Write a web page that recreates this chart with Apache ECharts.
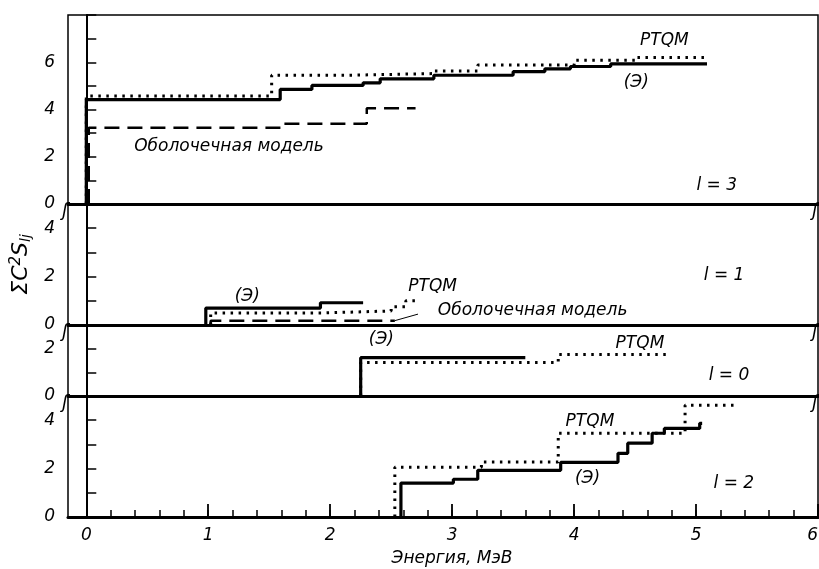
<!DOCTYPE html>
<html><head><meta charset="utf-8">
<script src="https://cdn.jsdelivr.net/npm/echarts@6/dist/echarts.min.js"></script>
<style>html,body{margin:0;padding:0;background:#fff}#c{width:819px;height:569px}</style>
</head><body><div id="c"></div>
<script>
// ---- data (energy in MeV, values of sum C^2 S) ----
const xMinorTicks = [0,0.2,0.4,0.6,0.8,1,1.2,1.4,1.6,1.8,2,2.2,2.4,2.6,2.8,3,3.2,3.4,3.6,3.8,4,4.2,4.4,4.6,4.8,5,5.2,5.4,5.6,5.8,6];
const xMajorTicks = [0,1,2,3,4,5,6];
const panelL = ['l = 3','l = 1','l = 0','l = 2'];
const panelYMax = [8,5,3,5];

// l = 3
const exp3X  = [0,0,1.59,1.85,2.27,2.41,2.85,3.50,3.76,3.97,4.30,5.09];
const exp3Y  = [0,4.42,4.85,5.02,5.13,5.30,5.45,5.60,5.72,5.82,5.93,5.93];
const ptqm3X = [0,0,1.52,2.13,2.85,3.21,4.00,4.50,5.10];
const ptqm3Y = [0,4.57,5.45,5.52,5.63,5.88,6.08,6.20,6.20];
const shell3X = [0.02,0.02,1.62,2.30,2.70];
const shell3Y = [0,3.23,3.40,4.05,4.05];
// l = 1
const exp1X  = [0.98,0.98,1.92,2.27];
const exp1Y  = [0,0.70,0.92,0.92];
const ptqm1X = [1.02,1.02,1.95,2.50,2.62,2.70];
const ptqm1Y = [0,0.50,0.58,0.75,1.00,1.00];
const shell1X = [1.02,1.02,2.53];
const shell1Y = [0,0.18,0.18];
// l = 0
const exp0X  = [2.25,2.25,3.60];
const exp0Y  = [0,1.62,1.62];
const ptqm0X = [2.25,2.25,3.87,4.78];
const ptqm0Y = [0,1.42,1.75,1.75];
// l = 2
const exp2X  = [2.58,2.58,3.01,3.21,3.89,4.36,4.44,4.64,4.74,5.03,5.05];
const exp2Y  = [0,1.40,1.56,1.93,2.26,2.63,3.05,3.46,3.66,3.87,3.87];
const ptqm2X = [2.53,2.53,3.24,3.87,4.91,5.31];
const ptqm2Y = [0,2.06,2.27,3.46,4.62,4.62];

// text annotations: [panel, text, x, y]
const notes = [
  [0,'PTQM',4.74,6.9],[0,'(Э)',4.51,5.15],[0,'Оболочечная модель',1.17,2.43],[0,panelL[0],5.17,0.8],
  [1,'(Э)',1.32,1.17],[1,'PTQM',2.84,1.58],[1,'Оболочечная модель',3.66,0.58],[1,panelL[1],5.23,2.04],
  [2,'(Э)',2.42,2.4],[2,'PTQM',4.54,2.2],[2,panelL[2],5.27,0.87],
  [3,'PTQM',4.13,3.96],[3,'(Э)',4.11,1.6],[3,panelL[3],5.31,1.4]
];
const leader1 = [[2.53,0.18],[2.72,0.45]];

// ---- chart ----
const FONT = 'DejaVu Sans';
const XMIN = -0.15, XMAX = 6;
const tops = [15,204,325,396];
const heights = [189,121,71,121];
const zip = (a,b)=>a.map((v,i)=>[v,b[i]]);

const grids = tops.map((t,i)=>({left:68,right:1,top:t,height:heights[i],show:true,borderColor:'#000',borderWidth:1.5,
  backgroundColor:'transparent',containLabel:false,outerBoundsMode:'none'}));
const xAxes = [];
const yAxes = [];
for (let i=0;i<4;i++){
  const last = i===3;
  xAxes.push({type:'value',gridIndex:i,min:XMIN,max:XMAX,
    axisLine:{show:true,onZero:false,lineStyle:{color:'#000',width:3}},
    axisTick:last?{show:true,inside:true,length:7,customValues:xMinorTicks,lineStyle:{color:'#000',width:1.5}}:{show:false},
    axisLabel:last?{show:true,customValues:xMajorTicks,fontFamily:FONT,fontStyle:'italic',fontSize:17,color:'#000',margin:10,
      hideOverlap:false,alignMaxLabel:'right'}:{show:false},
    splitLine:{show:false},
    name:last?'Энергия, МэВ':'',nameLocation:'middle',nameGap:33,
    nameTextStyle:{fontFamily:FONT,fontStyle:'italic',fontSize:17,color:'#000',padding:[0,0,0,18]}
  });
  yAxes.push({type:'value',gridIndex:i,min:0,max:panelYMax[i],interval:1,
    axisLine:{show:true,lineStyle:{color:'#000',width:2}},
    axisTick:{show:true,inside:true,length:10,lineStyle:{color:'#000',width:1.5}},
    axisLabel:{show:true,fontFamily:FONT,fontStyle:'italic',fontSize:17,color:'#000',margin:13,
      formatter:v=>(v%2===0&&v<panelYMax[i]-0.5)?String(v):''},
    splitLine:{show:false},
    name:i===1?'ΣC{sup|2}S{sub|lj}':'',nameLocation:'middle',nameRotate:90,nameGap:30,
    nameTextStyle:{fontFamily:FONT,fontStyle:'italic',fontSize:22,color:'#000',
      rich:{sup:{fontFamily:FONT,fontStyle:'italic',fontSize:15,color:'#000',verticalAlign:'top',padding:[0,0,10,0]},
            sub:{fontFamily:FONT,fontStyle:'italic',fontSize:14,color:'#000',verticalAlign:'bottom',padding:[8,0,0,0]}}}
  });
}
// second x axis on bottom for long integer ticks
xAxes.push({type:'value',gridIndex:3,min:XMIN,max:XMAX,position:'bottom',
  axisLine:{show:false},axisLabel:{show:false},splitLine:{show:false},
  axisTick:{show:true,inside:true,length:13,customValues:xMajorTicks,lineStyle:{color:'#000',width:1.8}}});

const solid = {color:'#000',width:3.2,type:'solid'};
const dotted = {color:'#000',width:3,type:[2.5,5.5],cap:'butt'};
const dashed = {color:'#000',width:2.5,type:[15,8]};
function stepSeries(gi,xs,ys,style,z){
  return {type:'line',xAxisIndex:gi,yAxisIndex:gi,step:'end',data:zip(xs,ys),symbol:'none',
    lineStyle:style,animation:false,z:z||2,silent:true};
}
const series = [
  stepSeries(0,shell3X,shell3Y,dashed,2),
  stepSeries(0,ptqm3X,ptqm3Y,dotted,3),
  stepSeries(0,exp3X,exp3Y,solid,4),
  stepSeries(1,shell1X,shell1Y,dashed,2),
  stepSeries(1,ptqm1X,ptqm1Y,dotted,3),
  stepSeries(1,exp1X,exp1Y,solid,4),
  {type:'line',xAxisIndex:1,yAxisIndex:1,data:leader1,symbol:'none',lineStyle:{color:'#000',width:1},animation:false,silent:true},
  stepSeries(2,ptqm0X,ptqm0Y,dotted,3),
  stepSeries(2,exp0X,exp0Y,solid,4),
  stepSeries(3,ptqm2X,ptqm2Y,dotted,3),
  stepSeries(3,exp2X,exp2Y,solid,4)
];
for (let i=0;i<4;i++){
  const pts = notes.filter(n=>n[0]===i).map(n=>({value:[n[2],n[3]],name:n[1]}));
  series.push({type:'scatter',xAxisIndex:i,yAxisIndex:i,data:pts,symbolSize:0,animation:false,silent:true,
    itemStyle:{opacity:1},
    label:{show:true,position:'inside',formatter:p=>p.name,fontFamily:FONT,fontStyle:'italic',fontSize:17,
      color:'#000',opacity:1,textBorderWidth:0}});
}

const chart = echarts.init(document.getElementById('c'),null,{renderer:'canvas'});
chart.setOption({animation:false,backgroundColor:'#fff',grid:grids,xAxis:xAxes,yAxis:yAxes,series:series});

// axis-break marks
const marks = [];
for (let i=0;i<3;i++){
  const pl = chart.convertToPixel({gridIndex:i},[XMIN,0]);
  const pr = chart.convertToPixel({gridIndex:i},[XMAX,0]);
  [pl,pr].forEach(p=>marks.push({type:'text',x:p[0]-6,y:p[1]-2,z:10,
    style:{text:'ʃ',font:'italic 18px DejaVu Sans',fill:'#000'}}));
}
chart.setOption({graphic:marks});
</script></body></html>
